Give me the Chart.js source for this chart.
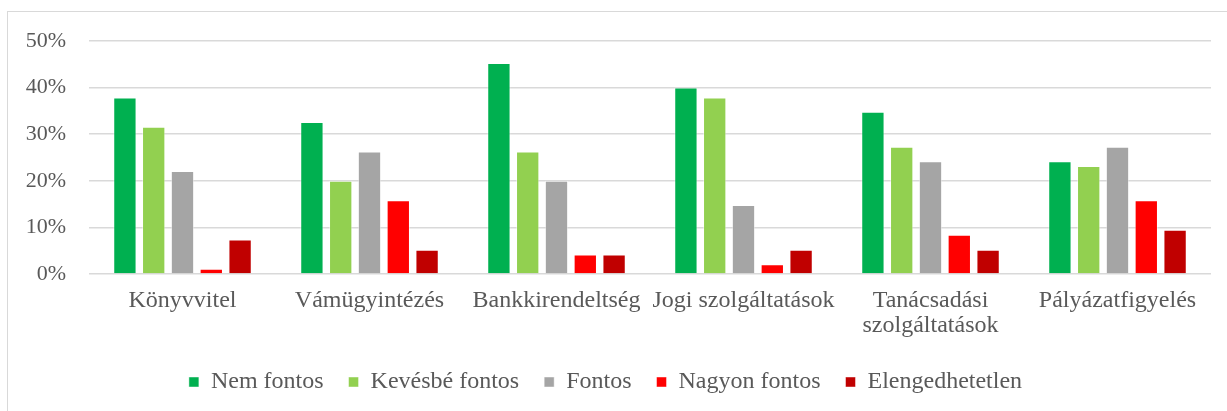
<!DOCTYPE html>
<html>
<head>
<meta charset="utf-8">
<script src="https://cdn.jsdelivr.net/npm/chart.js@4/dist/chart.umd.min.js"></script>
<style>
  html, body { margin: 0; padding: 0; background: #fff; overflow: hidden; }
  #wrap { position: relative; width: 1227px; height: 411px; overflow: hidden; }
  #frame { position: absolute; left: 7px; top: 11px; width: 1300px; height: 500px; border-left: 1px solid #d9d9d9; border-top: 1px solid #d9d9d9; }
  #c { position: absolute; left: 0; top: 0; }
</style>
</head>
<body>
<div id="wrap">
  <div id="frame"></div>
  <canvas id="c" width="1227" height="404" style="width:1227px;height:404px"></canvas>
</div>
<script>
const categories = ['Könyvvitel', 'Vámügyintézés', 'Bankkirendeltség', 'Jogi szolgáltatások', ['Tanácsadási', 'szolgáltatások'], 'Pályázatfigyelés'];
const seriesNames = ['Nem fontos', 'Kevésbé fontos', 'Fontos', 'Nagyon fontos', 'Elengedhetetlen'];
const nemFontos      = [37.9, 32.6, 45.3, 40.0, 34.8, 24.2];
const kevesbeFontos  = [31.6, 20.0, 26.3, 37.9, 27.3, 23.2];
const fontos         = [22.1, 26.3, 20.0, 14.8, 24.2, 27.3];
const nagyonFontos   = [1.1, 15.8, 4.2, 2.1, 8.4, 15.8];
const elengedhetetlen= [7.4, 5.2, 4.2, 5.2, 5.2, 9.5];
const yTicks = [0, 10, 20, 30, 40, 50];

const colors = ['#00B050', '#92D050', '#A5A5A5', '#FF0000', '#C00000'];
const seriesData = [nemFontos, kevesbeFontos, fontos, nagyonFontos, elengedhetetlen];
const FONT = "'Liberation Serif', 'Times New Roman', serif";

new Chart(document.getElementById('c'), {
  type: 'bar',
  data: {
    labels: categories,
    datasets: seriesNames.map((n, i) => ({
      label: n,
      data: seriesData[i],
      backgroundColor: colors[i],
      borderColor: 'rgba(255,255,255,0.45)',
      borderWidth: 1,
      categoryPercentage: 0.77,
      barPercentage: 0.81
    }))
  },
  options: {
    responsive: false,
    animation: false,
    devicePixelRatio: 1,
    layout: { padding: { left: 0, right: 16, top: 41, bottom: 0 } },
    plugins: {
      tooltip: { enabled: false },
      legend: {
        position: 'bottom',
        labels: {
          boxWidth: 10, boxHeight: 10,
          padding: 25,
          color: '#595959',
          font: { family: FONT, size: 24 }
        }
      }
    },
    scales: {
      x: {
        grid: { display: false },
        border: { display: false },
        ticks: {
          color: '#595959',
          font: { family: FONT, size: 24, lineHeight: 1.05 },
          maxRotation: 0, minRotation: 0, autoSkip: false,
          padding: 6
        },
        afterFit: s => { s.height = 71; }
      },
      y: {
        min: 0, max: 50,
        afterBuildTicks: s => { s.ticks = yTicks.map(v => ({ value: v })); },
        grid: { color: '#d9d9d9', lineWidth: 1.5, drawTicks: false },
        border: { display: false },
        ticks: {
          color: '#595959',
          font: { family: FONT, size: 22 },
          padding: 23,
          callback: v => v + '%'
        },
        afterFit: s => { s.width = 89; }
      }
    }
  }
});
</script>
</body>
</html>
